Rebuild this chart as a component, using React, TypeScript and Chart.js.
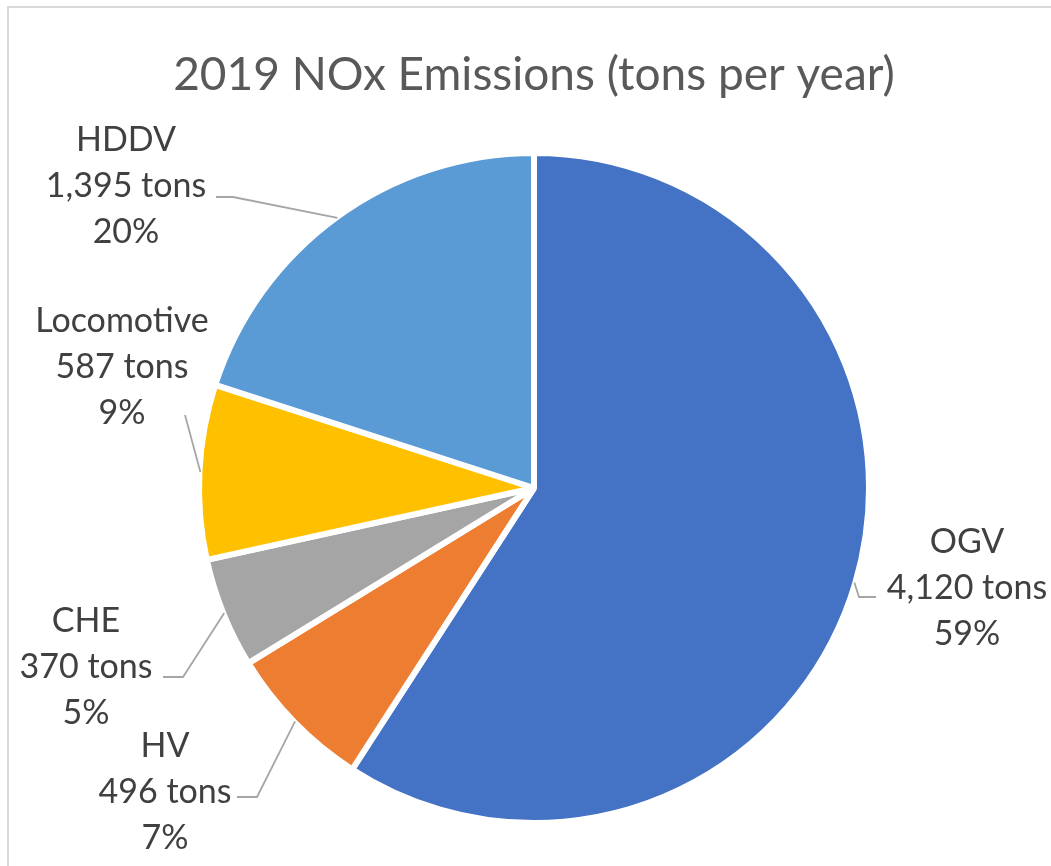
import React, { useEffect, useRef } from "react";
import { Chart, ArcElement, PieController } from "chart.js";

Chart.register(ArcElement, PieController);

// ---- data ----
const categories = ["OGV", "HV", "CHE", "Locomotive", "HDDV"];
const tons = [4120, 496, 370, 587, 1395];
const percentLabels = ["59%", "7%", "5%", "9%", "20%"];
const sliceColors = ["#4472C4", "#ED7D31", "#A5A5A5", "#FFC000", "#5B9BD5"];
const titleText = "2019 NOx Emissions (tons per year)";

// ---- layout (label block centre and leader elbows, label side first) ----
const labelLayout = [
  { x: 967, y: 588, leader: [[876, 597], [859, 597]] },
  { x: 165, y: 792, leader: [[237, 797], [257, 797]] },
  { x: 86, y: 667, leader: [[163, 677], [183, 677]] },
  { x: 122, y: 367, leader: [[185, 415]] },
  { x: 126, y: 186, leader: [[216, 197], [233, 197]] },
];

const FONT = "Lato, 'Noto Sans', sans-serif";

const labelPlugin = {
  id: "excelLabels",
  afterDatasetsDraw(chart: any) {
    const ctx: CanvasRenderingContext2D = chart.ctx;
    const meta = chart.getDatasetMeta(0);
    ctx.save();
    // title
    ctx.fillStyle = "#595959";
    ctx.font = `46px ${FONT}`;
    ctx.textAlign = "center";
    ctx.textBaseline = "middle";
    ctx.fillText(titleText, 534, 75);

    meta.data.forEach((arc: any, i: number) => {
      const p = arc.getProps(["x", "y", "startAngle", "endAngle", "outerRadius"], true);
      const mid = (p.startAngle + p.endAngle) / 2;
      const r = p.outerRadius - 3 + 2;
      const px = p.x + Math.cos(mid) * r;
      const py = p.y + Math.sin(mid) * r;
      const lay = labelLayout[i];
      ctx.strokeStyle = "#A6A6A6";
      ctx.lineWidth = 1.8;
      ctx.beginPath();
      lay.leader.forEach((pt, k) => {
        if (k === 0) ctx.moveTo(pt[0], pt[1]);
        else ctx.lineTo(pt[0], pt[1]);
      });
      ctx.lineTo(px, py);
      ctx.stroke();

      const lines = [
        categories[i],
        `${tons[i].toLocaleString("en-US")} tons`,
        percentLabels[i],
      ];
      ctx.fillStyle = "#404040";
      ctx.font = `34px ${FONT}`;
      ctx.textAlign = "center";
      ctx.textBaseline = "middle";
      const lh = 46;
      lines.forEach((t, k) => {
        ctx.fillText(t, lay.x, lay.y + (k - 1) * lh);
      });
    });
    ctx.restore();
  },
};

export default function App() {
  const ref = useRef<HTMLCanvasElement | null>(null);
  useEffect(() => {
    if (!ref.current) return;
    const chart = new Chart(ref.current, {
      type: "pie",
      data: {
        labels: categories,
        datasets: [
          {
            data: tons,
            backgroundColor: sliceColors,
            borderColor: "#FFFFFF",
            borderWidth: 6,
            hoverOffset: 0,
          },
        ],
      },
      options: {
        animation: false,
        responsive: true,
        maintainAspectRatio: false,
        radius: 335,
        layout: { padding: { top: 110, left: 17, right: 0, bottom: 0 } },
        plugins: {
          legend: { display: false },
          tooltip: { enabled: false },
          title: { display: false },
        },
        events: [],
      } as any,
      plugins: [labelPlugin],
    });
    return () => chart.destroy();
  }, []);

  return (
    <div style={{ position: "fixed", left: 0, top: 0, width: 1051, height: 866, background: "#fff", overflow: "hidden" }}>
      <div
        style={{
          position: "absolute",
          left: 7,
          top: 6,
          width: 1100,
          height: 900,
          borderLeft: "2px solid #D9D9D9",
          borderTop: "2px solid #D9D9D9",
        }}
      />
      <div style={{ position: "absolute", left: 0, top: 0, width: 1051, height: 866 }}>
        <canvas ref={ref} />
      </div>
    </div>
  );
}
